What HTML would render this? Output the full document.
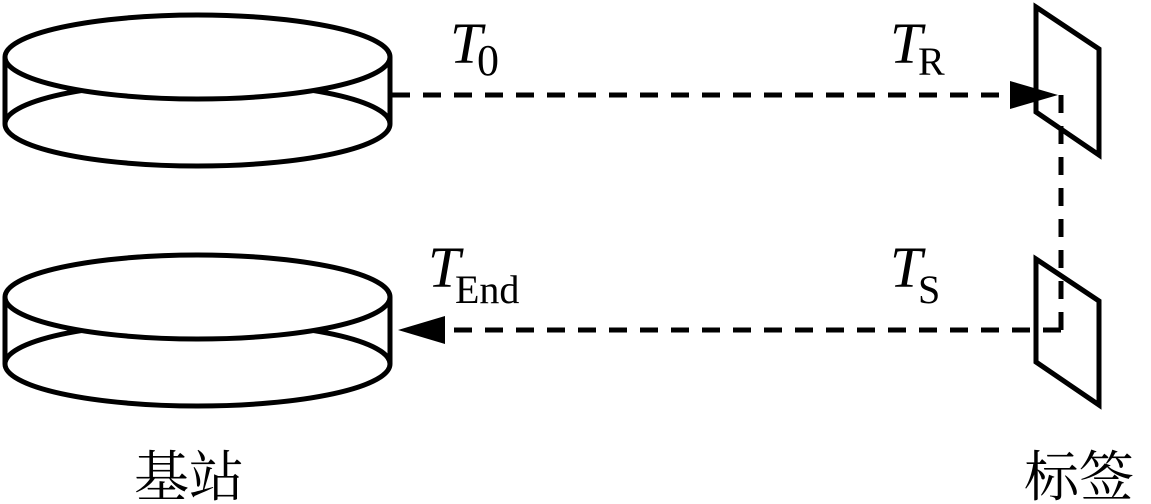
<!DOCTYPE html>
<html><head><meta charset="utf-8"><style>
html,body{margin:0;padding:0;background:#fff;width:1151px;height:504px;overflow:hidden}
svg text{font-family:"Liberation Serif",serif;fill:#000}
.cjk{font-family:"Liberation Serif","Noto Serif CJK SC",serif}
</style></head><body>
<svg width="1151" height="504" viewBox="0 0 1151 504" xmlns="http://www.w3.org/2000/svg">
<g fill="none" stroke="#000" stroke-width="5">
  <g>
    <ellipse cx="197.5" cy="124" rx="192.5" ry="42"/>
    <ellipse cx="197.5" cy="57" rx="192.5" ry="42" fill="#fff"/>
    <line x1="5" y1="57" x2="5" y2="124"/>
    <line x1="390" y1="57" x2="390" y2="124"/>
  </g>
  <g transform="translate(0,240)">
    <ellipse cx="197.5" cy="124" rx="192.5" ry="42"/>
    <ellipse cx="197.5" cy="57" rx="192.5" ry="42" fill="#fff"/>
    <line x1="5" y1="57" x2="5" y2="124"/>
    <line x1="390" y1="57" x2="390" y2="124"/>
  </g>
  <polygon points="1036,7 1099,49 1099,155 1036,112"/>
  <polygon points="1036,259 1099,301 1099,405 1036,362"/>
</g>
<g stroke="#000" stroke-width="5" stroke-dasharray="18 13" fill="none">
  <line x1="392" y1="95" x2="1035" y2="95"/>
  <line x1="1061" y1="95" x2="1061" y2="330"/>
  <line x1="1061" y1="330" x2="440" y2="330"/>
</g>
<polygon points="1010,81 1010,109 1058,95" fill="#000"/>
<polygon points="445,316 445,344 398,330" fill="#000"/>
<text x="450" y="63" font-size="58" font-style="italic">T</text>
<text x="477" y="75" font-size="44">0</text>
<text x="890" y="63" font-size="58" font-style="italic">T</text>
<text x="918" y="75" font-size="40">R</text>
<text x="428" y="287" font-size="58" font-style="italic">T</text>
<text x="455" y="303" font-size="40">End</text>
<text x="890" y="287" font-size="58" font-style="italic">T</text>
<text x="918" y="303" font-size="40">S</text>
<text x="134" y="496" font-size="55" class="cjk">基站</text>
<text x="1024" y="496" font-size="55" class="cjk">标签</text>
</svg>
</body></html>
